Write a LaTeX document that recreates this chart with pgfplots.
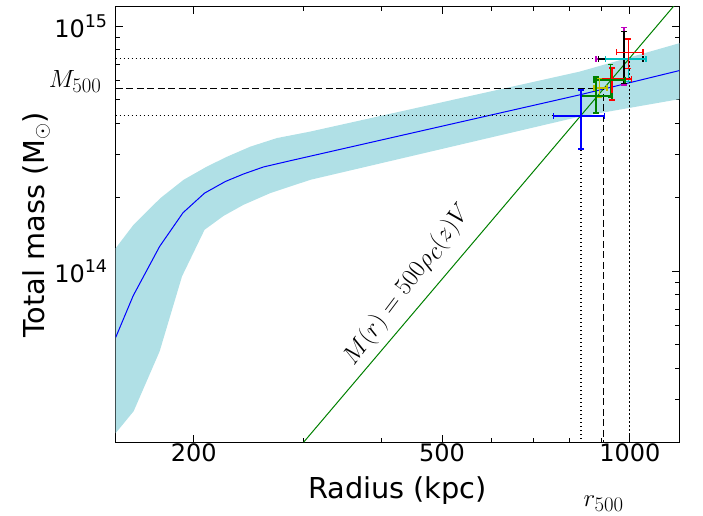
\documentclass[border=0pt]{standalone}
\usepackage{pgfplots}
\pgfplotsset{compat=1.18}
\usepackage{fontspec}
\setmainfont{DejaVu Sans}

\definecolor{powderblue}{RGB}{176,224,230}
\definecolor{mplgreen}{rgb}{0,0.5,0}
\definecolor{mplcyan}{rgb}{0,0.75,0.75}
\definecolor{mplmagenta}{rgb}{0.75,0,0.75}
\definecolor{mplyellow}{rgb}{0.75,0.75,0}

\newcommand{\tenpow}[1]{10\raisebox{0.42em}{\fontsize{17.5}{20}\selectfont #1}}

\pgfplotsset{
  eb/.style={mark=none, line width=1.4pt, forget plot,
    error bars/x dir=both, error bars/x explicit,
    error bars/y dir=both, error bars/y explicit,
    error bars/error bar style={line width=1.4pt, solid},
    error bars/error mark options={rotate=90, mark size=2.8pt, line width=1.3pt, solid}},
  refdot/.style={black, line width=1.1pt, dash pattern=on 1.2pt off 2.8pt, forget plot},
  refdash/.style={black, line width=1.2pt, dash pattern=on 7pt off 3.5pt, forget plot},
}

\begin{document}
\begin{tikzpicture}
\useasboundingbox (-115.7pt,-72.7pt) rectangle (587.3pt,442.3pt);
\begin{axis}[
  at={(0pt,0pt)}, anchor=south west,
  scale only axis, width=563.6pt, height=435.6pt,
  xmode=log, ymode=log,
  xmin=150, xmax=1200, ymin=2e13, ymax=1.2e15,
  xtick={200,500,1000}, xticklabels={200,500,1000},
  minor xtick={300,400,600,700,800,900},
  ytick={1e14,1e15}, yticklabels={\tenpow{14},\tenpow{15}},
  minor ytick={3e13,4e13,5e13,6e13,7e13,8e13,9e13,2e14,3e14,4e14,5e14,6e14,7e14,8e14,9e14},
  tick label style={font=\fontsize{24}{28}\selectfont},
  xticklabel style={yshift=2pt},
  yticklabel style={anchor=east, inner sep=0pt, xshift=-8.4pt},
  major tick length=7pt, minor tick length=4pt,
  every tick/.style={black, line width=0.9pt},
  axis line style={line width=1.2pt},
  xlabel={Radius (kpc)},
  ylabel={Total mass (M$_{\odot}$)},
  label style={font=\fontsize{28.8}{34}\selectfont},
  xlabel style={at={(axis description cs:0.5,-0.071)}, anchor=north},
  ylabel style={at={(axis description cs:-0.1107,0.5)}, anchor=south},
]
% uncertainty band
\addplot[fill=powderblue, draw=none, forget plot] coordinates {
  (150,1.24e14) (160.2,1.545e14) (176.9,1.985e14) (192.7,2.357e14)
  (210,2.67e14) (226.3,2.93e14) (246.5,3.22e14) (271.9,3.49e14)
  (307.6,3.71e14) (831.5,6.52e14) (1200,8.51e14)
  (1200,5.03e14) (831.5,4.27e14) (307.6,2.357e14) (265.3,2.08e14)
  (240.4,1.864e14) (223.4,1.68e14) (208.2,1.474e14) (191.6,9.52e13)
  (176.4,4.70e13) (160.3,2.68e13) (150,2.18e13)
} -- cycle;
% mass profile
\addplot[blue, line width=1pt] coordinates {
  (150,5.36e13) (160,7.93e13) (176.4,1.26e14) (192.3,1.73e14)
  (208.2,2.08e14) (224.8,2.32e14) (240.4,2.49e14) (258.8,2.66e14)
  (285.6,2.82e14) (831.5,5.24e14) (1200,6.58e14)
};
% M = 500 rho_c V
\addplot[mplgreen, line width=1pt] coordinates {(300,2e13) (1200,1.283e15)};
% r500 / M500 guides
\addplot[refdot] coordinates {(150,4.32e14) (835,4.32e14) (835,2e13)};
\addplot[refdash] coordinates {(150,5.56e14) (908,5.56e14) (908,2e13)};
\addplot[refdot] coordinates {(150,7.36e14) (997,7.36e14) (997,2e13)};
% individual estimates
\addplot[eb, color=mplmagenta] coordinates {(979,7.34e14) += (82,2.51e14) -= (97,1.59e14)};
\addplot[eb, color=black] coordinates {(979,7.34e14) += (71,2.15e14) -= (89,1.50e14)};
\addplot[eb, color=mplcyan] coordinates {(994,7.34e14) += (67,1.58e14) -= (79,1.41e14)};
\addplot[eb, color=red] coordinates {(994,7.82e14) += (56,1.04e14) -= (42,1.09e14)};
\addplot[eb, color=red] coordinates {(936,6.09e14) += (71,0.66e14) -= (51,1.10e14)};
\addplot[eb, color=mplgreen] coordinates {(931,6.03e14) += (51,0.96e14) -= (55,0.89e14)};
\addplot[eb, color=mplyellow] coordinates {(893,5.59e14) += (26,0.50e14) -= (17,0.45e14)};
\addplot[eb, color=mplgreen] coordinates {(882,5.19e14) += (54,1.01e14) -= (47,0.77e14)};
\addplot[eb, color=blue] coordinates {(835,4.30e14) += (75,1.19e14) -= (81,1.154e14)};

\node[rotate=53, font=\fontsize{33}{38}\selectfont] at (axis cs:440,8.8e13) {$M(r)=500\rho_c(z)V$};
\coordinate (m5) at (axis cs:150,5.56e14);
\coordinate (r5) at (axis cs:908,2e13);
\end{axis}
\node[anchor=east, inner sep=0pt, font=\fontsize{29.5}{34}\selectfont] at ([xshift=-14pt,yshift=7pt]m5) {$M_{500}$};
\node[inner sep=0pt, font=\fontsize{28.8}{34}\selectfont] at ([yshift=-61pt]r5) {$r_{500}$};
\end{tikzpicture}
\end{document}
